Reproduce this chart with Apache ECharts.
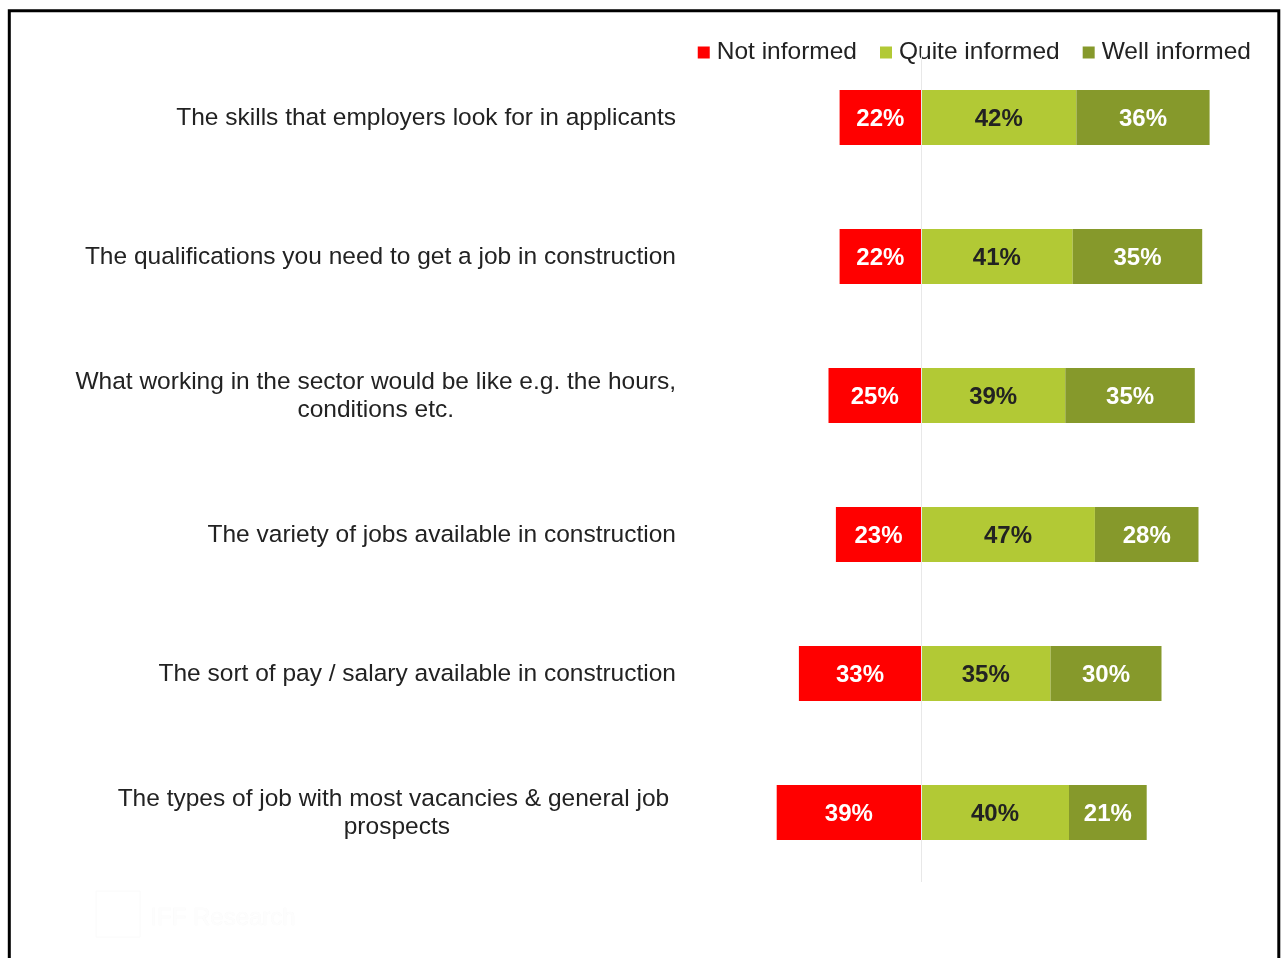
<!DOCTYPE html>
<html>
<head>
<meta charset="utf-8">
<script src="https://cdn.jsdelivr.net/npm/echarts@6/dist/echarts.min.js"></script>
<style>
  html, body { margin: 0; padding: 0; background: #fff; }
  #chart { width: 1285px; height: 958px; }
</style>
</head>
<body>
<div id="chart"></div>
<script>
// Survey topics (top to bottom)
const categories = [
  'The skills that employers look for in applicants',
  'The qualifications you need to get a job in construction',
  'What working in the sector would be like e.g. the hours,\nconditions etc.',
  'The variety of jobs available in construction',
  'The sort of pay / salary available in construction',
  'The types of job with most vacancies & general job \nprospects'
];

// Share of respondents (%)
const notInformed   = [22, 22, 25, 23, 33, 39];
const quiteInformed = [42, 41, 39, 47, 35, 40];
const wellInformed  = [36, 35, 35, 28, 30, 21];

const seriesNames = ['Not informed', 'Quite informed', 'Well informed'];
const colors = ['#FF0000', '#B2C935', '#86992B'];
const textDark = '#222222';
const fontFamily = 'Liberation Sans, Arial, sans-serif';

const chart = echarts.init(document.getElementById('chart'));

function barLabel(color) {
  return {
    show: true,
    position: 'inside',
    offset: [0, 2],
    color: color,
    fontFamily: fontFamily,
    fontWeight: 'bold',
    fontSize: 24,
    formatter: (p) => Math.abs(p.value) + '%'
  };
}

chart.setOption({
  animation: false,
  backgroundColor: '#fff',
  color: colors,
  graphic: [
    {
      type: 'rect',
      shape: { x: 9.3, y: 10.7, width: 1269.5, height: 960 },
      style: { fill: 'none', stroke: '#000', lineWidth: 3 },
      silent: true
    },
    {
      type: 'rect',
      shape: { x: 96, y: 891, width: 44, height: 46 },
      style: { fill: 'none', stroke: '#fafafa', lineWidth: 1 },
      silent: true
    },
    {
      type: 'text',
      left: 150,
      top: 906,
      style: {
        text: 'IFF Research',
        fill: '#fdfdfd',
        stroke: '#f9f9f9',
        lineWidth: 0.6,
        font: '24px ' + fontFamily
      },
      silent: true
    }
  ],
  legend: {
    data: seriesNames,
    right: 29,
    top: 35,
    padding: [5, 5, 0, 5],
    backgroundColor: '#fff',
    icon: 'rect',
    itemWidth: 12,
    itemHeight: 12,
    itemGap: 23,
    selectedMode: false,
    textStyle: {
      color: textDark,
      fontSize: 24.5,
      fontFamily: fontFamily,
      padding: [0, 0, 0, 2]
    }
  },
  grid: {
    left: 773,
    right: 68,
    top: 48,
    bottom: 76,
    containLabel: false
  },
  xAxis: {
    type: 'value',
    min: -40,
    max: 80,
    show: false
  },
  yAxis: {
    type: 'category',
    inverse: true,
    data: categories,
    axisLine: { show: false },
    axisTick: { show: false },
    splitLine: { show: false },
    axisLabel: {
      margin: 97,
      align: 'right',
      lineHeight: 28,
      formatter: (v) => v.split('\n').map((l) => '{c|' + l + '}').join('\n'),
      rich: {
        c: {
          align: 'center',
          fontSize: 24.5,
          lineHeight: 28,
          padding: [2, 0, 0, 0],
          color: textDark,
          fontFamily: fontFamily
        }
      }
    }
  },
  series: [
    {
      name: seriesNames[0],
      type: 'bar',
      stack: 'total',
      barWidth: 55,
      data: notInformed.map((v) => -v),
      label: barLabel('#fff')
    },
    {
      name: seriesNames[1],
      type: 'bar',
      stack: 'total',
      barWidth: 55,
      data: quiteInformed,
      label: barLabel(textDark)
    },
    {
      name: seriesNames[2],
      type: 'bar',
      stack: 'total',
      barWidth: 55,
      data: wellInformed,
      label: barLabel('#fff'),
      markLine: {
        silent: true,
        symbol: 'none',
        label: { show: false },
        lineStyle: { color: '#e8e8e8', width: 1, type: 'solid' },
        data: [{ xAxis: 0 }]
      }
    }
  ]
});
</script>
</body>
</html>
